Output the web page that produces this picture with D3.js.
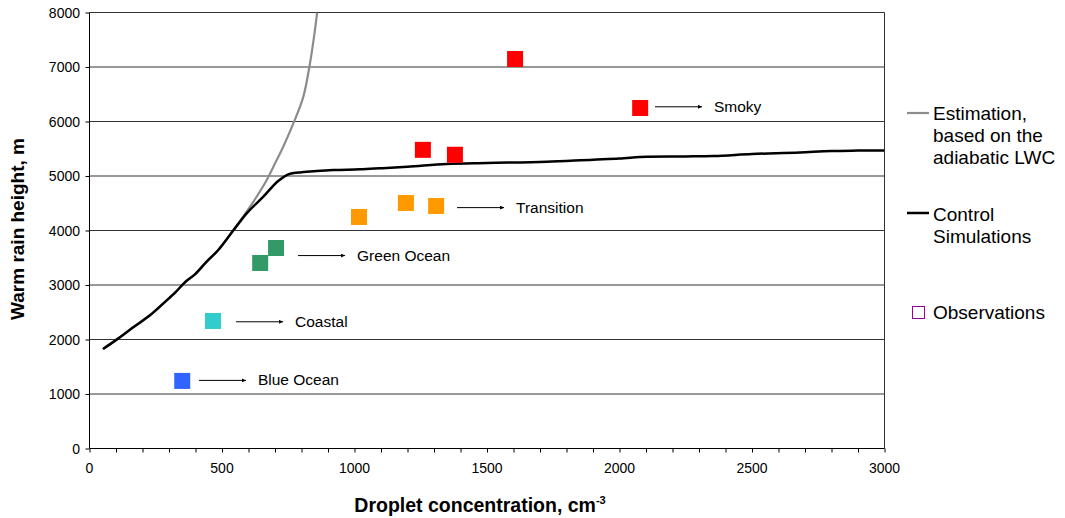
<!DOCTYPE html>
<html>
<head>
<meta charset="utf-8">
<script src="https://cdn.jsdelivr.net/npm/d3@7"></script>
<style>
  body { margin: 0; background: #fff; }
  svg text { font-family: "Liberation Sans", Arial, sans-serif; fill: #000; }
</style>
</head>
<body>
<svg id="chart" width="1065" height="518"></svg>
<script>
// control simulation curve (droplet conc, height)
var controlX = [51, 101, 165, 228, 279, 323, 360, 398, 442, 486, 543, 593, 656, 712, 757, 800, 857, 920, 1021, 1096, 1200, 1348, 1500, 1725, 1900, 2000, 2103, 2250, 2353, 2500, 2681, 2800, 2900, 3000];
var controlY = [1826, 1993, 2224, 2444, 2664, 2859, 3049, 3196, 3428, 3642, 4004, 4315, 4620, 4908, 5042, 5070, 5092, 5110, 5122, 5141, 5170, 5220, 5238, 5262, 5300, 5320, 5354, 5360, 5367, 5404, 5430, 5459, 5466, 5470];

// adiabatic LWC estimation curve
var estimX = [51, 101, 165, 228, 279, 323, 360, 398, 442, 486, 543, 606, 669, 694, 731, 772, 807, 832, 849, 859];
var estimY = [1826, 1993, 2224, 2444, 2664, 2859, 3049, 3196, 3428, 3642, 4004, 4437, 4927, 5171, 5538, 5997, 6456, 7068, 7618, 8000];

// observations
var obsX = [350, 466, 644, 704, 1017, 1194, 1308, 1606, 1258, 1379, 2078];
var obsY = [1240, 2340, 3404, 3679, 4248, 4505, 4450, 7147, 5480, 5390, 6248];
var obsRegime = ["blue", "coastal", "green", "green", "transition", "transition", "transition", "smoky", "smoky", "smoky", "smoky"];

// regime colours
var regimeColor = { blue: "#3163ff", coastal: "#33cccc", green: "#339966", transition: "#ff9900", smoky: "#ff0000" };

// annotation arrows (start of arrow in data coords)
var noteText = ["Blue Ocean", "Coastal", "Green Ocean", "Transition", "Smoky"];
var noteX = [413, 553, 787, 1387, 2134];
var noteY = [1250, 2325, 3540, 4420, 6270];

var xTicks = d3.range(0, 3001, 500);
var xMinor = d3.range(0, 3001, 100);
var yTicks = d3.range(0, 8001, 1000);

var svg = d3.select("#chart");

var x = d3.scaleLinear().domain([0, 3000]).range([89.5, 884.5]);
var y = d3.scaleLinear().domain([0, 8000]).range([448.5, 12.5]);

svg.append("defs").append("marker")
    .attr("id", "arr")
    .attr("viewBox", "0 0 10 10")
    .attr("refX", 10).attr("refY", 5)
    .attr("markerWidth", 4).attr("markerHeight", 4)
    .attr("markerUnits", "userSpaceOnUse")
    .attr("orient", "auto")
    .append("path")
    .attr("d", "M0,0L10,5L0,10Z")
    .attr("fill", "#000");

svg.append("clipPath").attr("id", "plotclip")
    .append("rect")
    .attr("x", x(0)).attr("y", y(8000))
    .attr("width", x(3000) - x(0)).attr("height", y(0) - y(8000));

// gridlines
svg.append("g")
    .selectAll("line")
    .data(yTicks.filter(function (d) { return d > 0; }))
    .enter()
    .append("line")
    .attr("x1", x(0)).attr("x2", x(3000))
    .attr("y1", function (d) { return y(d); })
    .attr("y2", function (d) { return y(d); })
    .attr("stroke", "#333")
    .attr("stroke-width", 1);

// right border
svg.append("line")
    .attr("x1", x(3000)).attr("x2", x(3000))
    .attr("y1", y(0)).attr("y2", y(8000))
    .attr("stroke", "#333");

// x axis
var xAxis = svg.append("g")
    .attr("transform", "translate(0," + y(0) + ")")
    .call(d3.axisBottom(x).tickValues(xMinor).tickSize(4).tickFormat(""));
xAxis.select(".domain").attr("stroke", "#000").attr("d", "M" + x(0) + ",0H" + x(3000));
xAxis.selectAll(".tick line").attr("stroke", "#000");

svg.append("g")
    .selectAll("text")
    .data(xTicks)
    .enter()
    .append("text")
    .attr("x", function (d) { return x(d); })
    .attr("y", 473)
    .attr("text-anchor", "middle")
    .style("font-size", "14px")
    .text(function (d) { return d; });

// y axis
var yAxis = svg.append("g")
    .attr("transform", "translate(" + x(0) + ",0)")
    .call(d3.axisLeft(y).tickValues(yTicks).tickSize(4).tickFormat(""));
yAxis.select(".domain").attr("stroke", "#000").attr("d", "M0," + y(0) + "V" + y(8000));
yAxis.selectAll(".tick line").attr("stroke", "#000");

svg.append("g")
    .selectAll("text")
    .data(yTicks)
    .enter()
    .append("text")
    .attr("x", 80)
    .attr("y", function (d) { return y(d) + 5; })
    .attr("text-anchor", "end")
    .style("font-size", "14px")
    .text(function (d) { return d; });

// axis titles
svg.append("text")
    .attr("transform", "translate(24,229) rotate(-90)")
    .attr("text-anchor", "middle")
    .style("font-size", "19px")
    .style("font-weight", "bold")
    .text("Warm rain height, m");

var xt = svg.append("text")
    .attr("x", 480)
    .attr("y", 512)
    .attr("text-anchor", "middle")
    .style("font-size", "19.5px")
    .style("font-weight", "bold");
xt.append("tspan").text("Droplet concentration, cm");
xt.append("tspan").attr("dy", -8).style("font-size", "11px").text("-3");

// curves
var lineGen = d3.line()
    .x(function (d) { return x(d[0]); })
    .y(function (d) { return y(d[1]); })
    .curve(d3.curveMonotoneX);

var plot = svg.append("g").attr("clip-path", "url(#plotclip)");

plot.append("path")
    .datum(d3.zip(estimX, estimY))
    .attr("d", lineGen.curve(d3.curveCatmullRom))
    .attr("fill", "none")
    .attr("stroke", "#8c8c8c")
    .attr("stroke-width", 2.2);

plot.append("path")
    .datum(d3.zip(controlX, controlY))
    .attr("d", lineGen.curve(d3.curveMonotoneX))
    .attr("fill", "none")
    .attr("stroke", "#000")
    .attr("stroke-width", 2.5);

// observation squares
svg.append("g")
    .selectAll("rect")
    .data(d3.range(obsX.length))
    .enter()
    .append("rect")
    .attr("x", function (i) { return x(obsX[i]) - 8; })
    .attr("y", function (i) { return y(obsY[i]) - 8; })
    .attr("width", 16)
    .attr("height", 16)
    .attr("fill", function (i) { return regimeColor[obsRegime[i]]; });

// annotations
var notes = svg.append("g")
    .selectAll("g")
    .data(d3.range(noteText.length))
    .enter()
    .append("g");

notes.append("line")
    .attr("x1", function (i) { return x(noteX[i]); })
    .attr("x2", function (i) { return x(noteX[i]) + 47; })
    .attr("y1", function (i) { return y(noteY[i]); })
    .attr("y2", function (i) { return y(noteY[i]); })
    .attr("stroke", "#000")
    .attr("stroke-width", 1)
    .attr("marker-end", "url(#arr)");

notes.append("text")
    .attr("x", function (i) { return x(noteX[i]) + 59; })
    .attr("y", function (i) { return y(noteY[i]) + 5; })
    .style("font-size", "15.5px")
    .text(function (i) { return noteText[i]; });

// legend
var lg = svg.append("g");
lg.append("line")
    .attr("x1", 907).attr("x2", 929).attr("y1", 113).attr("y2", 113)
    .attr("stroke", "#8c8c8c").attr("stroke-width", 2.2);
["Estimation,", "based on the", "adiabatic LWC"].forEach(function (t, i) {
    lg.append("text").attr("x", 933).attr("y", 120 + i * 22)
        .style("font-size", "19px").text(t);
});
lg.append("line")
    .attr("x1", 907).attr("x2", 929).attr("y1", 213).attr("y2", 213)
    .attr("stroke", "#000").attr("stroke-width", 2.5);
["Control", "Simulations"].forEach(function (t, i) {
    lg.append("text").attr("x", 933).attr("y", 221 + i * 22)
        .style("font-size", "19px").text(t);
});
lg.append("rect")
    .attr("x", 912.5).attr("y", 306.5).attr("width", 12).attr("height", 12)
    .attr("fill", "none").attr("stroke", "#990099");
lg.append("text").attr("x", 933).attr("y", 319)
    .style("font-size", "19px").text("Observations");
</script>
</body>
</html>
